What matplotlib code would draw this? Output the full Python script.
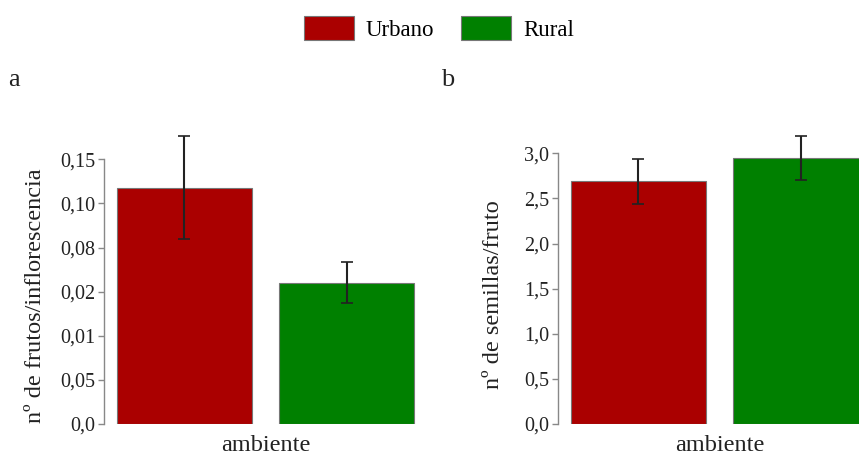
import matplotlib
matplotlib.use("Agg")
import matplotlib.pyplot as plt
from matplotlib.patches import Patch

plt.rcParams['font.family'] = ['Liberation Serif', 'DejaVu Serif']

groups = ["Urbano", "Rural"]
colors = ["#AA0000", "#008000"]

# panel a: frutos por inflorescencia
frutos_mean = [0.134, 0.080]
frutos_err = [0.029, 0.0117]
frutos_ticks = [0, 0.025, 0.05, 0.075, 0.10, 0.125, 0.15]
frutos_labels = ["0,0", "0,05", "0,01", "0,02", "0,08", "0,10", "0,15"]

# panel b: semillas por fruto
semillas_mean = [2.69, 2.95]
semillas_err = [0.25, 0.245]
semillas_ticks = [0, 0.5, 1.0, 1.5, 2.0, 2.5, 3.0]
semillas_labels = ["0,0", "0,5", "1,0", "1,5", "2,0", "2,5", "3,0"]

W, H = 859, 455
fig = plt.figure(figsize=(W / 100, H / 100), dpi=100)

xpos = [0, 1.2]


def panel(left_px, top_px, means, errs, ticks, labels, ylabel, lab_xy):
    x0 = left_px / W
    y0 = (H - 424) / H
    ax = fig.add_axes([x0, y0, 323 / W, (424 - top_px) / H])
    ax.bar(xpos, means, width=1.0, color=colors, edgecolor="#777777", linewidth=0.8)
    ax.errorbar(xpos, means, yerr=errs, fmt="none", ecolor="#222222",
                elinewidth=1.5, capsize=4.5, capthick=1.2, clip_on=False)
    ax.set_xlim(-0.594, 1.794)
    ax.set_ylim(0, ticks[-1])
    ax.set_yticks(ticks)
    ax.set_yticklabels(labels)
    ax.set_xticks([])
    for s in ["top", "right", "bottom"]:
        ax.spines[s].set_visible(False)
    ax.spines["left"].set_color("#888888")
    ax.spines["left"].set_linewidth(1.0)
    ax.tick_params(axis="y", direction="out", length=4.5, width=1.0, color="#888888",
                   labelsize=14.5, pad=2, labelcolor="#222222")
    ax.set_ylabel(ylabel, fontsize=17.5, color="#222222")
    ax.yaxis.set_label_coords(*lab_xy)
    ax.set_xlabel("ambiente", fontsize=17.5, labelpad=8, color="#222222")
    return ax


panel(104, 159.3, frutos_mean, frutos_err, frutos_ticks, frutos_labels,
      "nº de frutos/inflorescencia", (-0.18, 0.484))
panel(558, 153.3, semillas_mean, semillas_err, semillas_ticks, semillas_labels,
      "nº de semillas/fruto", (-0.167, 0.477))

fig.text(8 / W, (H - 86) / H, "a", fontsize=19, color="#222222")
fig.text(441 / W, (H - 86) / H, "b", fontsize=19, color="#222222")

handles = [Patch(facecolor=c, edgecolor="#777777", linewidth=0.8, label=g)
           for c, g in zip(colors, groups)]
fig.legend(handles=handles, loc="center", bbox_to_anchor=(0.511, 0.938), ncol=2,
           frameon=False, fontsize=16.5, handlelength=2.18, handleheight=1.22,
           handletextpad=0.52, columnspacing=1.18, borderpad=0)

fig.savefig("out.png", dpi=100)
